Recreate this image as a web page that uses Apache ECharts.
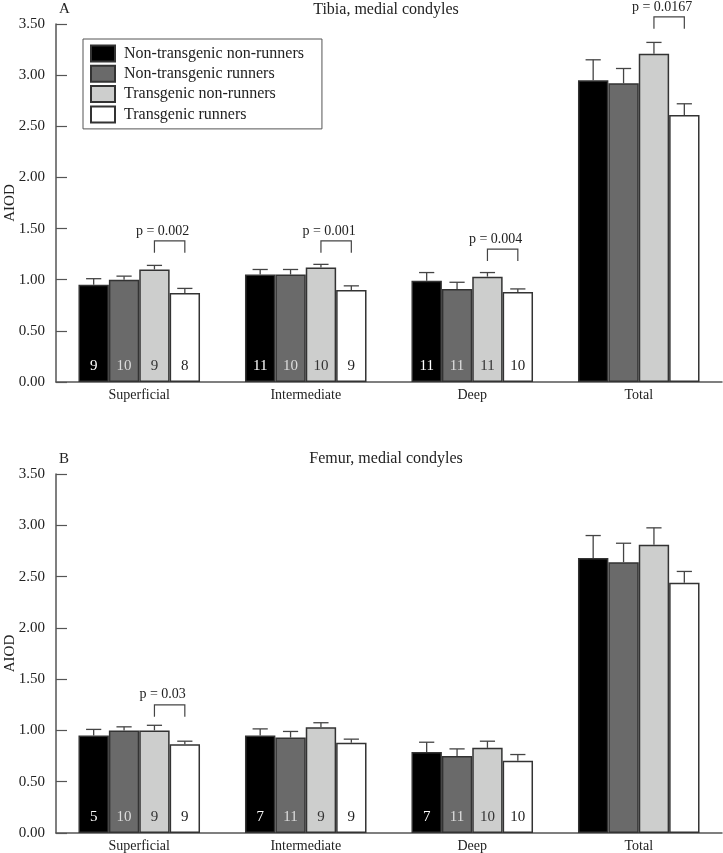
<!DOCTYPE html>
<html>
<head>
<meta charset="utf-8">
<script src="https://cdn.jsdelivr.net/npm/echarts@6/dist/echarts.min.js"></script>
<style>
html,body{margin:0;padding:0;background:#fff;}
#chart{width:723px;height:853px;}
</style>
</head>
<body>
<div id="chart"></div>
<script>
// ---------- Data ----------
const categories = ['Superficial', 'Intermediate', 'Deep', 'Total'];
const groupNames = ['Non-transgenic non-runners', 'Non-transgenic runners', 'Transgenic non-runners', 'Transgenic runners'];
const yTicks = [0, 0.5, 1, 1.5, 2, 2.5, 3, 3.5];

// Panel A: Tibia, medial condyles (means)
const tibiaNonTgNonRun = [0.95, 1.05, 0.99, 2.95];
const tibiaNonTgRun    = [1.00, 1.05, 0.91, 2.92];
const tibiaTgNonRun    = [1.10, 1.12, 1.03, 3.21];
const tibiaTgRun       = [0.87, 0.90, 0.88, 2.61];
// Panel A: error (SE)
const tibiaErrNonTgNonRun = [0.06, 0.05, 0.08, 0.20];
const tibiaErrNonTgRun    = [0.035, 0.05, 0.065, 0.145];
const tibiaErrTgNonRun    = [0.04, 0.03, 0.04, 0.11];
const tibiaErrTgRun       = [0.045, 0.04, 0.03, 0.11];
// Panel A: n
const tibiaNNonTgNonRun = [9, 11, 11, null];
const tibiaNNonTgRun    = [10, 10, 11, null];
const tibiaNTgNonRun    = [9, 10, 11, null];
const tibiaNTgRun       = [8, 9, 10, null];
// Panel A: p-values (transgenic non-runners vs runners)
const tibiaPCats   = [0, 1, 2, 3];
const tibiaPLabels = ['p = 0.002', 'p = 0.001', 'p = 0.004', 'p = 0.0167'];
const tibiaPLevels = [1.38, 1.38, 1.30, 3.57];

// Panel B: Femur, medial condyles (means)
const femurNonTgNonRun = [0.95, 0.95, 0.79, 2.68];
const femurNonTgRun    = [1.00, 0.93, 0.75, 2.64];
const femurTgNonRun    = [1.00, 1.03, 0.83, 2.81];
const femurTgRun       = [0.865, 0.88, 0.705, 2.44];
// Panel B: error (SE)
const femurErrNonTgNonRun = [0.06, 0.065, 0.095, 0.22];
const femurErrNonTgRun    = [0.035, 0.06, 0.07, 0.185];
const femurErrTgNonRun    = [0.05, 0.045, 0.065, 0.165];
const femurErrTgRun       = [0.03, 0.035, 0.06, 0.11];
// Panel B: n
const femurNNonTgNonRun = [5, 7, 7, null];
const femurNNonTgRun    = [10, 11, 11, null];
const femurNTgNonRun    = [9, 9, 10, null];
const femurNTgRun       = [9, 9, 10, null];
// Panel B: p-values
const femurPCats   = [0];
const femurPLabels = ['p = 0.03'];
const femurPLevels = [1.25];

// ---------- Styles ----------
const FONT = '"Liberation Serif", "DejaVu Serif", serif';
const barColors = ['#000000', '#6a6a6a', '#cdcecd', '#ffffff'];
const labelColors = ['#ffffff', '#dddddd', '#333333', '#222222'];
const AXIS = '#555';
const GAP_FRAC = 0.27;

const panels = [
  { means: [tibiaNonTgNonRun, tibiaNonTgRun, tibiaTgNonRun, tibiaTgRun],
    errs: [tibiaErrNonTgNonRun, tibiaErrNonTgRun, tibiaErrTgNonRun, tibiaErrTgRun],
    ns: [tibiaNNonTgNonRun, tibiaNNonTgRun, tibiaNTgNonRun, tibiaNTgRun],
    pCats: tibiaPCats, pLabels: tibiaPLabels, pLevels: tibiaPLevels },
  { means: [femurNonTgNonRun, femurNonTgRun, femurTgNonRun, femurTgRun],
    errs: [femurErrNonTgNonRun, femurErrNonTgRun, femurErrTgNonRun, femurErrTgRun],
    ns: [femurNNonTgNonRun, femurNNonTgRun, femurNTgNonRun, femurNTgRun],
    pCats: femurPCats, pLabels: femurPLabels, pLevels: femurPLevels }
];

const grids = [
  { left: 56, right: 1, top: 24, height: 358, containLabel: false, outerBoundsMode: 'none' },
  { left: 56, right: 1, top: 474, height: 359, containLabel: false, outerBoundsMode: 'none' }
];

function barCenter(api, c, k, v) {
  const band = api.size([1, 0])[0];
  const bw = band * (1 - GAP_FRAC) / 4;
  const p = api.coord([c, v]);
  return { x: p[0] + (k - 1.5) * bw, y: p[1], bw: bw };
}

const xAxes = [], yAxes = [], series = [];
panels.forEach((P, gi) => {
  xAxes.push({
    type: 'category', gridIndex: gi, data: categories,
    axisLine: { lineStyle: { color: AXIS, width: 1.5 } },
    axisTick: { inside: true, length: 12, lineStyle: { color: AXIS, width: 1.2 } },
    axisLabel: { fontFamily: FONT, fontSize: 14, color: '#222', margin: 6 }
  });
  yAxes.push({
    type: 'value', gridIndex: gi, min: yTicks[0], max: yTicks[yTicks.length - 1], interval: 0.5,
    name: 'AIOD', nameLocation: 'middle', nameGap: 38, nameMoveOverlap: false,
    nameTextStyle: { fontFamily: FONT, fontSize: 15, color: '#222' },
    splitLine: { show: false },
    axisLine: { show: true, lineStyle: { color: AXIS, width: 1.5 } },
    axisTick: { show: true, inside: true, length: 11, lineStyle: { color: AXIS, width: 1.2 } },
    axisLabel: { fontFamily: FONT, fontSize: 15, color: '#222', margin: 11,
      formatter: v => v.toFixed(2) }
  });
  P.means.forEach((arr, k) => {
    const nArr = P.ns[k];
    series.push({
      type: 'bar', name: groupNames[k], xAxisIndex: gi, yAxisIndex: gi,
      data: arr, barGap: '0%', barCategoryGap: (GAP_FRAC * 100) + '%',
      itemStyle: { color: barColors[k], borderColor: '#333', borderWidth: 1.5 },
      label: { show: true, position: 'insideBottom', distance: 8,
        fontFamily: FONT, fontSize: 15, color: labelColors[k],
        formatter: p => (nArr[p.dataIndex] == null ? '' : String(nArr[p.dataIndex])) },
      emphasis: { disabled: true },
      z: 2
    });
  });
  // error bars
  const errData = [];
  P.means.forEach((arr, k) => arr.forEach((m, c) => errData.push([c, k, m, P.errs[k][c]])));
  series.push({
    type: 'custom', xAxisIndex: gi, yAxisIndex: gi, data: errData, z: 3,
    encode: { x: 0, y: 2 }, silent: true,
    renderItem: (params, api) => {
      const c = api.value(0), k = api.value(1), m = api.value(2), e = api.value(3);
      const b = barCenter(api, c, k, m);
      const t = barCenter(api, c, k, m + e);
      const half = b.bw / 4;
      const st = { stroke: '#444', lineWidth: 1.3 };
      return { type: 'group', children: [
        { type: 'line', shape: { x1: b.x, y1: b.y, x2: t.x, y2: t.y }, style: st },
        { type: 'line', shape: { x1: t.x - half, y1: t.y, x2: t.x + half, y2: t.y }, style: st }
      ]};
    }
  });
  // p-value brackets
  const pData = P.pCats.map((c, i) => [c, P.pLevels[i], i]);
  series.push({
    type: 'custom', xAxisIndex: gi, yAxisIndex: gi, data: pData, z: 4, clip: false,
    encode: { x: 0, y: 1 }, silent: true,
    renderItem: (params, api) => {
      const c = api.value(0), lvl = api.value(1), idx = api.value(2);
      const a = barCenter(api, c, 2, lvl);
      const b = barCenter(api, c, 3, lvl);
      const leg = 12;
      const st = { stroke: '#444', lineWidth: 1.2, fill: null };
      return { type: 'group', children: [
        { type: 'polyline', shape: { points: [[a.x, a.y + leg], [a.x, a.y], [b.x, b.y], [b.x, b.y + leg]] }, style: st },
        { type: 'text', style: { text: P.pLabels[idx], x: (a.x + b.x) / 2 - 7, y: a.y - 10,
          align: 'center', verticalAlign: 'middle', font: '14px ' + FONT, fill: '#222' } }
      ]};
    }
  });
});

const chart = echarts.init(document.getElementById('chart'), null, { renderer: 'canvas' });
chart.setOption({
  animation: false,
  backgroundColor: '#ffffff',
  grid: grids,
  xAxis: xAxes,
  yAxis: yAxes,
  legend: {
    show: true, orient: 'vertical', left: 83, top: 39,
    data: groupNames, icon: 'rect', itemWidth: 24, itemHeight: 16, itemGap: 2.3,
    padding: [5.5, 18, 5.5, 7], borderColor: '#555', borderWidth: 1,
    selectedMode: false,
    textStyle: { fontFamily: FONT, fontSize: 16, color: '#222', padding: [0, 0, 0, 4] }
  },
  graphic: [
    { type: 'text', left: 59, top: 2, style: { text: 'A', font: '15px ' + FONT, fill: '#222' } },
    { type: 'text', x: 386, y: 10, style: { text: 'Tibia, medial condyles', font: '16px ' + FONT, fill: '#222', align: 'center', verticalAlign: 'middle' } },
    { type: 'text', left: 59, top: 452, style: { text: 'B', font: '15px ' + FONT, fill: '#222' } },
    { type: 'text', x: 386, y: 459, style: { text: 'Femur, medial condyles', font: '16px ' + FONT, fill: '#222', align: 'center', verticalAlign: 'middle' } }
  ],
  series: series
});
</script>
</body>
</html>
